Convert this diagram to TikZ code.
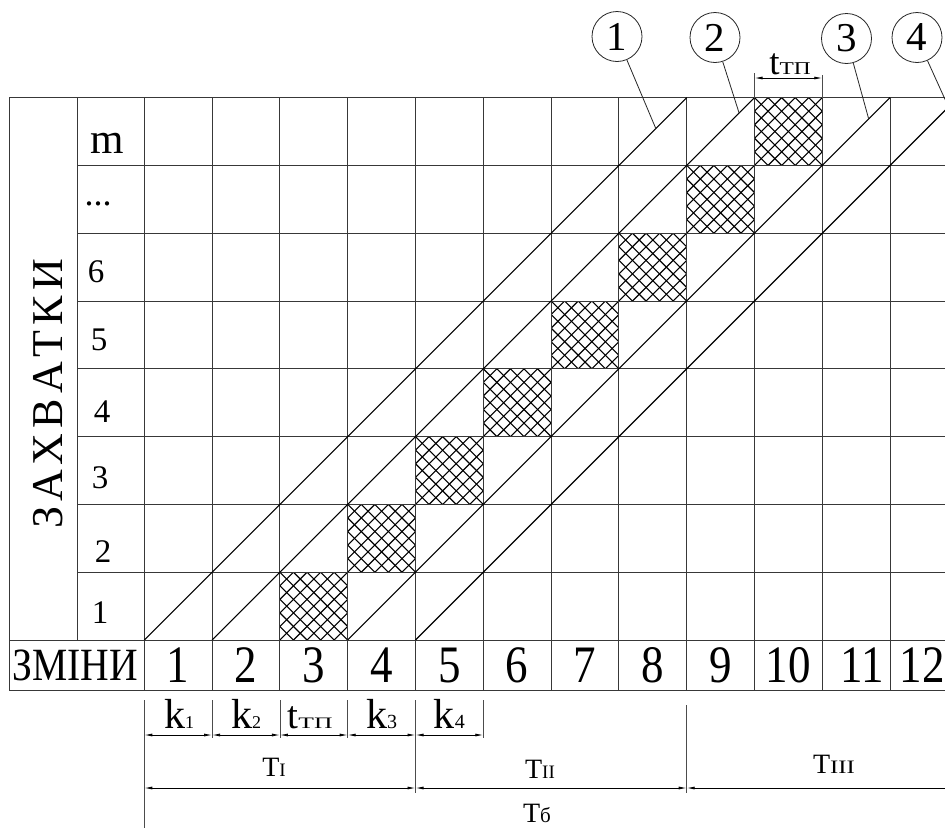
\documentclass[tikz,border=0pt]{standalone}
\usepackage{fontspec}
\setmainfont{Liberation Serif}
\usepackage{graphicx}
\usetikzlibrary{arrows.meta}
\newcommand{\fsz}[1]{\fontsize{#1}{#1}\selectfont}
\begin{document}
\begin{tikzpicture}[x=1pt,y=-1pt,
  gridln/.style={draw=black!78, line width=1pt},
  diagln/.style={draw=black, line width=1.1pt},
  hatchln/.style={draw=black, line width=1.1pt},
  extln/.style={draw=black!70, line width=0.8pt},
  dimln/.style={draw=black, line width=0.8pt, {Latex[length=8pt,width=3pt]}-{Latex[length=8pt,width=3pt]}},
  leader/.style={draw=black!85, line width=0.8pt},
  numcirc/.style={draw=black!85, line width=0.8pt, circle, minimum size=50pt, inner sep=0pt, font=\fsz{41}},
  colnum/.style={anchor=base, inner sep=0pt, font=\fsz{45}},
  rowlbl/.style={anchor=base, inner sep=0pt, font=\fsz{33}},
  dimlbl/.style={anchor=base, inner sep=0pt}
]
\clip (0,0) rectangle (945,828);
\fill[white] (0,0) rectangle (945,828);

% hatched cells
\foreach \k in {1,...,8}{
  \pgfmathsetmacro{\xa}{144.3+67.8*(\k+1)}
  \pgfmathsetmacro{\yb}{640-67.8*(\k-1)}
  \pgfmathsetmacro{\yt}{\yb-67.8}
  \begin{scope}
    \clip (\xa,\yb) rectangle ({\xa+67.8},\yt);
    \foreach \m in {-5,...,5}{
      \draw[hatchln] ({\xa+\m*13.56},\yb) -- ++(67.8,-67.8);
      \draw[hatchln] ({\xa+\m*13.56},\yt) -- ++(67.8,67.8);
    }
  \end{scope}
}

% grid
\draw[gridln] (9,97.6) -- (945,97.6);
\foreach \j in {1,...,7}{
  \draw[gridln] (77,{640-67.8*\j}) -- (945,{640-67.8*\j});
}
\draw[gridln] (9,640) -- (945,640);
\draw[gridln] (9,690) -- (945,690);
\draw[gridln] (9,97.6) -- (9,690);
\draw[gridln] (77,97.6) -- (77,640);
\foreach \i in {0,...,11}{
  \draw[gridln] ({144.3+67.8*\i},97.6) -- ({144.3+67.8*\i},690);
}

% diagonal lines
\coordinate (d1s) at (144.3,640); \coordinate (d1e) at (686.7,97.6);
\coordinate (d2s) at (212.1,640); \coordinate (d2e) at (754.5,97.6);
\coordinate (d3s) at (347.7,640); \coordinate (d3e) at (890.1,97.6);
\coordinate (d4s) at (415.5,640); \coordinate (d4e) at (957.9,97.6);
\draw[diagln] (d1s) -- (d1e);
\draw[diagln] (d2s) -- (d2e);
\draw[diagln] (d3s) -- (d3e);
\draw[diagln] (d4s) -- (d4e);

% numbered circles with leaders
\node[numcirc] (c1) at (617,36.5) {1};
\node[numcirc] (c2) at (715,37.5) {2};
\node[numcirc] (c3) at (846.5,38.5) {3};
\node[numcirc] (c4) at (917,37.5) {4};
\coordinate (t1) at (655.8,128.5);
\coordinate (t2) at (739.1,113);
\coordinate (t3) at (868.7,119);
\coordinate (t4) at (948.5,107);
\draw[leader] (c1) -- (t1);
\draw[leader] (c2) -- (t2);
\draw[leader] (c3) -- (t3);
\draw[leader] (c4) -- (t4);

% top dimension t_TP
\coordinate (ta1) at (754.5,73); \coordinate (tb1) at (754.5,97.6);
\coordinate (ta2) at (822.3,75); \coordinate (tb2) at (822.3,97.6);
\draw[extln] (ta1) -- (tb1);
\draw[extln] (ta2) -- (tb2);
\coordinate (tl) at (754.5,78); \coordinate (tr) at (822.3,78);
\draw[dimln] (tl) -- (tr);
\node[dimlbl] (ttop) at (790,74) {{\fsz{37}t}{\fsz{18}\scalebox{1.3}[1]{ТП}}};

% row labels
\node[rowlbl] (r1) at (100,623) {1};
\node[rowlbl] (r2) at (103,562) {2};
\node[rowlbl] (r3) at (100,488) {3};
\node[rowlbl] (r4) at (102,422) {4};
\node[rowlbl] (r5) at (99,350) {5};
\node[rowlbl] (r6) at (96,282) {6};
\node[rowlbl, font=\fsz{36}] (r7) at (98,205) {...};
\node[rowlbl, font=\fsz{43}] (r8) at (107,153) {m};

% vertical title
\node[rotate=90, inner sep=0pt, font=\fsz{44}] (zah) at (48,394)
  {З\hspace{5pt}А\hspace{5pt}Х\hspace{5pt}В\hspace{5pt}А\hspace{5pt}Т\hspace{5pt}К\hspace{5pt}И};

% bottom row
\node[colnum, font=\fsz{44}] (zm) at (75,680) {\scalebox{0.9}[1.05]{ЗМІНИ}};
\foreach \i/\t/\xx in {1/1/178.2,2/2/246,3/3/313.8,4/4/381.6,5/5/449.4,6/6/517.2,7/7/585,8/8/652.8,9/9/720.6,10/10/788.4,11/11/862,12/12/922}{
  \node[colnum] (n\i) at (\xx,682) {\scalebox{1}[1.17]{\t}};
}

% bottom extension lines
\coordinate (e0a) at (144.3,700); \coordinate (e0b) at (144.3,828);
\coordinate (e1a) at (212.1,700); \coordinate (e1b) at (212.1,738);
\coordinate (e2a) at (279.9,700); \coordinate (e2b) at (279.9,738);
\coordinate (e3a) at (347.7,700); \coordinate (e3b) at (347.7,738);
\coordinate (e4a) at (415.5,700); \coordinate (e4b) at (415.5,793);
\coordinate (e5a) at (483.3,700); \coordinate (e5b) at (483.3,738);
\coordinate (e8a) at (686.7,705); \coordinate (e8b) at (686.7,793);
\foreach \e in {0,1,2,3,4,5,8}{ \draw[extln] (e\e a) -- (e\e b); }

% first dimension chain
\coordinate (p0) at (144.3,735); \coordinate (p1) at (212.1,735);
\coordinate (p2) at (279.9,735); \coordinate (p3) at (347.7,735);
\coordinate (p4) at (415.5,735); \coordinate (p5) at (483.3,735);
\draw[dimln] (p0) -- (p1);
\draw[dimln] (p1) -- (p2);
\draw[dimln] (p2) -- (p3);
\draw[dimln] (p3) -- (p4);
\draw[dimln] (p4) -- (p5);
\node[dimlbl] (k1) at (179,728) {{\fsz{42}k}{\fsz{18}1}};
\node[dimlbl] (k2) at (246,728) {{\fsz{42}k}{\fsz{18}2}};
\node[dimlbl] (k0) at (310,728) {{\fsz{39}t}{\fsz{16}\scalebox{1.6}[1]{ТП}}};
\node[dimlbl] (k3) at (381.6,728) {{\fsz{42}k}{\fsz{20}3}};
\node[dimlbl] (k4) at (449.4,728) {{\fsz{42}k}{\fsz{20}4}};

% second dimension chain
\coordinate (q0) at (144.3,788); \coordinate (q1) at (415.5,788);
\coordinate (q2) at (686.7,788); \coordinate (q3) at (957.9,788);
\draw[dimln] (q0) -- (q1);
\draw[dimln] (q1) -- (q2);
\draw[dimln] (q2) -- (q3);
\node[dimlbl] (T1) at (274,776) {{\fsz{28}T}{\fsz{19}I}};
\node[dimlbl] (T2) at (540,778) {{\fsz{28}T}{\fsz{19}II}};
\node[dimlbl] (T3) at (834,773) {{\fsz{28}T}{\fsz{19}\scalebox{1.3}[1]{III}}};
\node[dimlbl] (Tb) at (537,822) {{\fsz{28}T}{\fsz{21}б}};
\end{tikzpicture}
\end{document}
